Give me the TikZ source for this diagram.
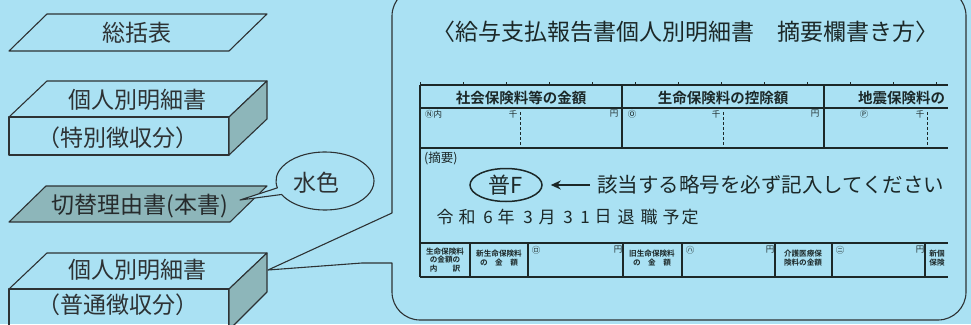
\documentclass[tikz,border=0pt]{standalone}
\usepackage{fontspec}
\setmainfont{Noto Sans CJK JP}[BoldFont={Noto Sans CJK JP Bold}]
\usetikzlibrary{arrows.meta,shapes.geometric,shapes.callouts}
\definecolor{bg}{RGB}{170,225,243}
\definecolor{shade}{RGB}{141,182,186}
\definecolor{ink}{RGB}{45,50,52}
\definecolor{tab}{RGB}{28,40,40}
\tikzset{
  shp/.style={draw=ink, line width=1.1pt, line join=round},
  lbl/.style={font=\fontsize{23}{25}\selectfont, text=ink, inner sep=0pt},
  tline/.style={draw=tab, line width=1.6pt},
  thin/.style={draw=tab, line width=1.1pt},
  hdr/.style={font=\fontsize{14.5}{16}\selectfont\bfseries, text=tab, inner sep=0pt},
  tiny/.style={font=\fontsize{8.5}{9.5}\selectfont, text=tab, inner sep=0pt},
  cell/.style={font=\fontsize{7.6}{8.6}\selectfont\bfseries, text=tab, inner sep=0pt, align=center},
  big/.style={font=\fontsize{20.5}{23}\selectfont, text=tab, inner sep=0pt},
  dch/.style={font=\fontsize{17}{19}\selectfont, text=tab, inner sep=0pt}
}
\begin{document}
\begin{tikzpicture}[x=1pt,y=-1pt]
\fill[bg] (0,0) rectangle (971,324);
\useasboundingbox (0,0) rectangle (971,324);

% --- left stack ---
\draw[shp] (9,51) -- (229,51) -- (267,14) -- (47,14) -- cycle;
\node[lbl] (sokatsu) at (137,33) {総括表};

\draw[shp] (47,81) -- (267,81) -- (229,117) -- (9,117) -- cycle;
\draw[shp] (9,117) rectangle (229,155);
\draw[shp, fill=shade] (229,117) -- (267,81) -- (267,119) -- (229,155) -- cycle;
\node[lbl] (kobetsu1) at (137,100) {個人別明細書};
\node[lbl] (tokubetsu) at (118,138) {（特別徴収分）};

\draw[shp, fill=shade] (9,222) -- (230,222) -- (267,186) -- (46,186) -- cycle;
\node[lbl, text=ink!85!black] (kirikae) at (140,206) {切替理由書(本書)};

\draw[shp] (47,253) -- (267,253) -- (229,289) -- (9,289) -- cycle;
\draw[shp] (9,289) rectangle (229,330);
\draw[shp, fill=shade] (229,289) -- (267,253) -- (267,292) -- (229,330) -- cycle;
\node[lbl] (kobetsu2) at (137,270) {個人別明細書};
\node[lbl] (futsuu) at (118,305) {（普通徴収分）};

% --- callout 水色 ---
\node[shp, ellipse callout, fill=bg, minimum width=98pt, minimum height=58pt,
      callout absolute pointer={(240,200)}, callout pointer arc=14, inner sep=0pt] (mizu) at (325,181) {};
\node[lbl] (mizutext) at (316,183) {水色};

% --- big callout ---
\draw[shp] (392,150) -- (392,213) -- (268,270) -- (362,263) -- (392,263) -- (392,280)
  [rounded corners=28pt] -- (392,320) -- (966,320) -- (966,-12) -- (392,-12) -- (392,100) [sharp corners] -- (392,150);

\node[font=\fontsize{23}{25}\selectfont, text=tab, inner sep=0pt] (title) at (685,32)
  {〈給与支払報告書個人別明細書　摘要欄書き方〉};

% --- upper table ---
\foreach \x in {420,463,506,549,592,635,678,721,764,807,850,893,936}
  \draw[thin, line width=0.8pt] (\x,85) -- (\x,82);
\draw[tline] (420,85) -- (948,85);
\draw[thin] (420,108) -- (948,108);
\draw[tline, line width=2pt] (420,148) -- (948,148);
\draw[tline] (420,85) -- (420,277);
\draw[tline] (622,85) -- (622,148);
\draw[tline] (824,85) -- (824,148);
\foreach \x in {520,723,927}
  \draw[draw=tab, line width=0.8pt, dash pattern=on 3pt off 2pt] (\x,112) -- (\x,148);

\node[hdr] (h1) at (521,98) {社会保険料等の金額};
\node[hdr] (h2) at (723,98) {生命保険料の控除額};
\node[hdr, anchor=west] (h3) at (858,98) {地震保険料の};

\node[tiny, anchor=west] (n1) at (425,114) {Ⓝ内};
\node[tiny] (s1) at (513,114) {千};
\node[tiny] (e1) at (614,114) {円};
\node[tiny] (n2) at (632,114) {Ⓞ};
\node[tiny] (s2) at (716,114) {千};
\node[tiny] (e2) at (815,114) {円};
\node[tiny] (n3) at (864,114) {Ⓟ};
\node[tiny] (s3) at (920,114) {千};

% --- 摘要 ---
\node[font=\fontsize{12.5}{14}\selectfont, text=tab, inner sep=0pt, anchor=west] (tekiyo) at (424,158) {(摘要)};
\node[draw=tab, ellipse, line width=1.5pt, minimum width=72pt, minimum height=33pt, inner sep=0pt,
      font=\fontsize{22}{24}\selectfont, text=tab] (futsuF) at (506,185) {普F};
\node[big, anchor=west] (gaito) at (597,185) {該当する略号を必ず記入してください};
\draw[draw=tab, line width=1.8pt, -{Stealth[length=10pt,width=9pt]}, shorten <=7pt, shorten >=8pt]
  (gaito.west) -- (futsuF.east);

\foreach \c/\x [count=\i] in {令/445,和/467,6/488,年/506,3/528,月/547,3/568,1/585,日/603,退/626,職/649,予/671,定/690}
  \node[dch] (d\i) at (\x,217) {\c};

% --- lower table ---
\draw[tline] (420,243) -- (948,243);
\draw[tline, line width=2pt] (420,277) -- (948,277);
\foreach \x in {470,528,623,682,775,832,925}
  \draw[tline] (\x,243) -- (\x,277);

\node[cell] (c1) at (445,260) {生命保険料\\の金額の\\内　　訳};
\node[cell] (c2) at (499,258) {新生命保険料\\の　金　額};
\node[tiny] (c3a) at (536,250) {㋺};
\node[tiny] (c3b) at (618,250) {円};
\node[cell] (c4) at (652,258) {旧生命保険料\\の　金　額};
\node[tiny] (c5a) at (690,250) {㋩};
\node[tiny] (c5b) at (770,250) {円};
\node[cell] (c6) at (803,258) {介護医療保\\険料の金額};
\node[tiny] (c7a) at (840,250) {㋥};
\node[tiny] (c7b) at (920,250) {円};
\node[cell] (c8) at (937,258) {新個\\保険};
\end{tikzpicture}
\end{document}
